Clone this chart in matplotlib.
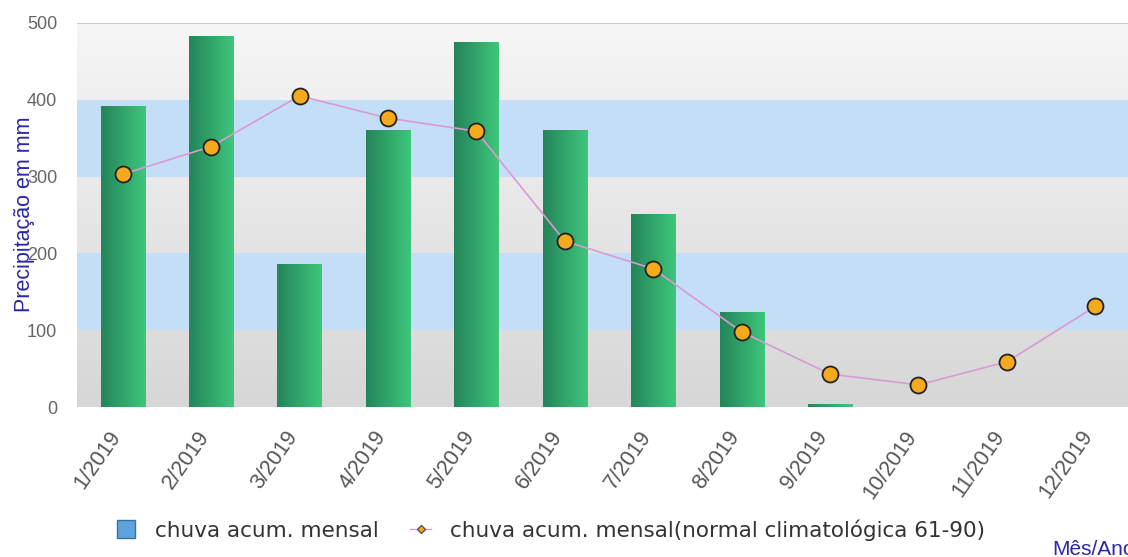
import numpy as np
import matplotlib.pyplot as plt
from matplotlib.colors import LinearSegmentedColormap
from matplotlib.lines import Line2D
from matplotlib.transforms import ScaledTranslation

meses = ['1/2019', '2/2019', '3/2019', '4/2019', '5/2019', '6/2019',
         '7/2019', '8/2019', '9/2019', '10/2019', '11/2019', '12/2019']
chuva = [392, 483, 186, 361, 475, 361, 251, 124, 4, 0, 0, 0]
normal = [303, 339, 405, 376, 359, 216, 180, 98, 43, 29, 59, 131]
yticks = [0, 100, 200, 300, 400, 500]

fig = plt.figure(figsize=(11.28, 5.57), dpi=100)
ax = fig.add_axes([0.068, 0.269, 0.932, 0.690])
x = np.arange(len(meses))
ax.set_xlim(-0.52, 11.37)
ax.set_ylim(0, 500)

# fundo: gradiente cinza + faixas azuis
fundo = LinearSegmentedColormap.from_list('fundo', ['#d7d7d7', '#f6f6f6'])
ax.imshow(np.linspace(0, 1, 100).reshape(-1, 1), cmap=fundo, extent=[-0.52, 11.37, 0, 500],
          aspect='auto', origin='lower', zorder=0)
for lo in [100, 300]:
    ax.axhspan(lo, lo + 100, color='#c5def8', lw=0, zorder=0.5)

# barras com gradiente
bars = ax.bar(x, chuva, width=0.5, color='none', zorder=2)
grad = np.linspace(0, 1, 60).reshape(1, -1)
verde = LinearSegmentedColormap.from_list('verde', ['#24855a', '#3ec67b'])
for b in bars:
    h = b.get_height()
    if h <= 0:
        continue
    im = ax.imshow(grad, cmap=verde, extent=[b.get_x(), b.get_x() + b.get_width(), 0, h],
                   aspect='auto', zorder=2)
    im.set_clip_path(b)

ax.plot(x, normal, color='#d99ad0', lw=1.2, zorder=3)
ax.plot(x, normal, 'o', ms=11.5, mfc='#f5a91c', mec='#222222', mew=1.3, zorder=4)

ax.set_xticks(x)
ax.set_xticklabels(meses, rotation=55, ha='right', rotation_mode='anchor',
                   color='#555555', fontsize=15.5, family='Liberation Sans')
ax.set_yticks(yticks)
ax.set_yticklabels([str(v) for v in yticks], color='#666666', fontsize=13,
                   family='Liberation Sans')
ax.tick_params(axis='y', length=0, pad=14)
ax.tick_params(axis='x', length=0, pad=14)
desloc = ScaledTranslation(-0.15, 0, fig.dpi_scale_trans)
for t in ax.get_xticklabels():
    t.set_transform(t.get_transform() + desloc)
for s in ['left', 'right', 'bottom']:
    ax.spines[s].set_visible(False)
ax.spines['top'].set_color('#cccccc')

fig.text(0.022, 0.615, 'Precipitação em mm', rotation=90, color='#2828a8',
         fontsize=15.5, family='Liberation Sans', ha='center', va='center')
fig.text(0.933, 0.0126, 'Mês/Ano', color='#2828a8', fontsize=15,
         family='Liberation Sans', va='center')

handles = [Line2D([], [], ls='none', marker='s', ms=13, mfc='#5fa3dc', mec='#3a70a0'),
           Line2D([], [], color='#d99ad0', lw=1, marker='D', ms=4,
                  mfc='#f5a91c', mec='#555555')]
fig.legend(handles, ['chuva acum. mensal', 'chuva acum. mensal(normal climatológica 61-90)'],
           loc='center left', bbox_to_anchor=(0.102, 0.048), ncol=2, frameon=False,
           fontsize=15.5, labelcolor='#333333', handlelength=1.0, handletextpad=0.85,
           columnspacing=1.45, borderpad=0, borderaxespad=0)

fig.savefig('out.png', dpi=100)
